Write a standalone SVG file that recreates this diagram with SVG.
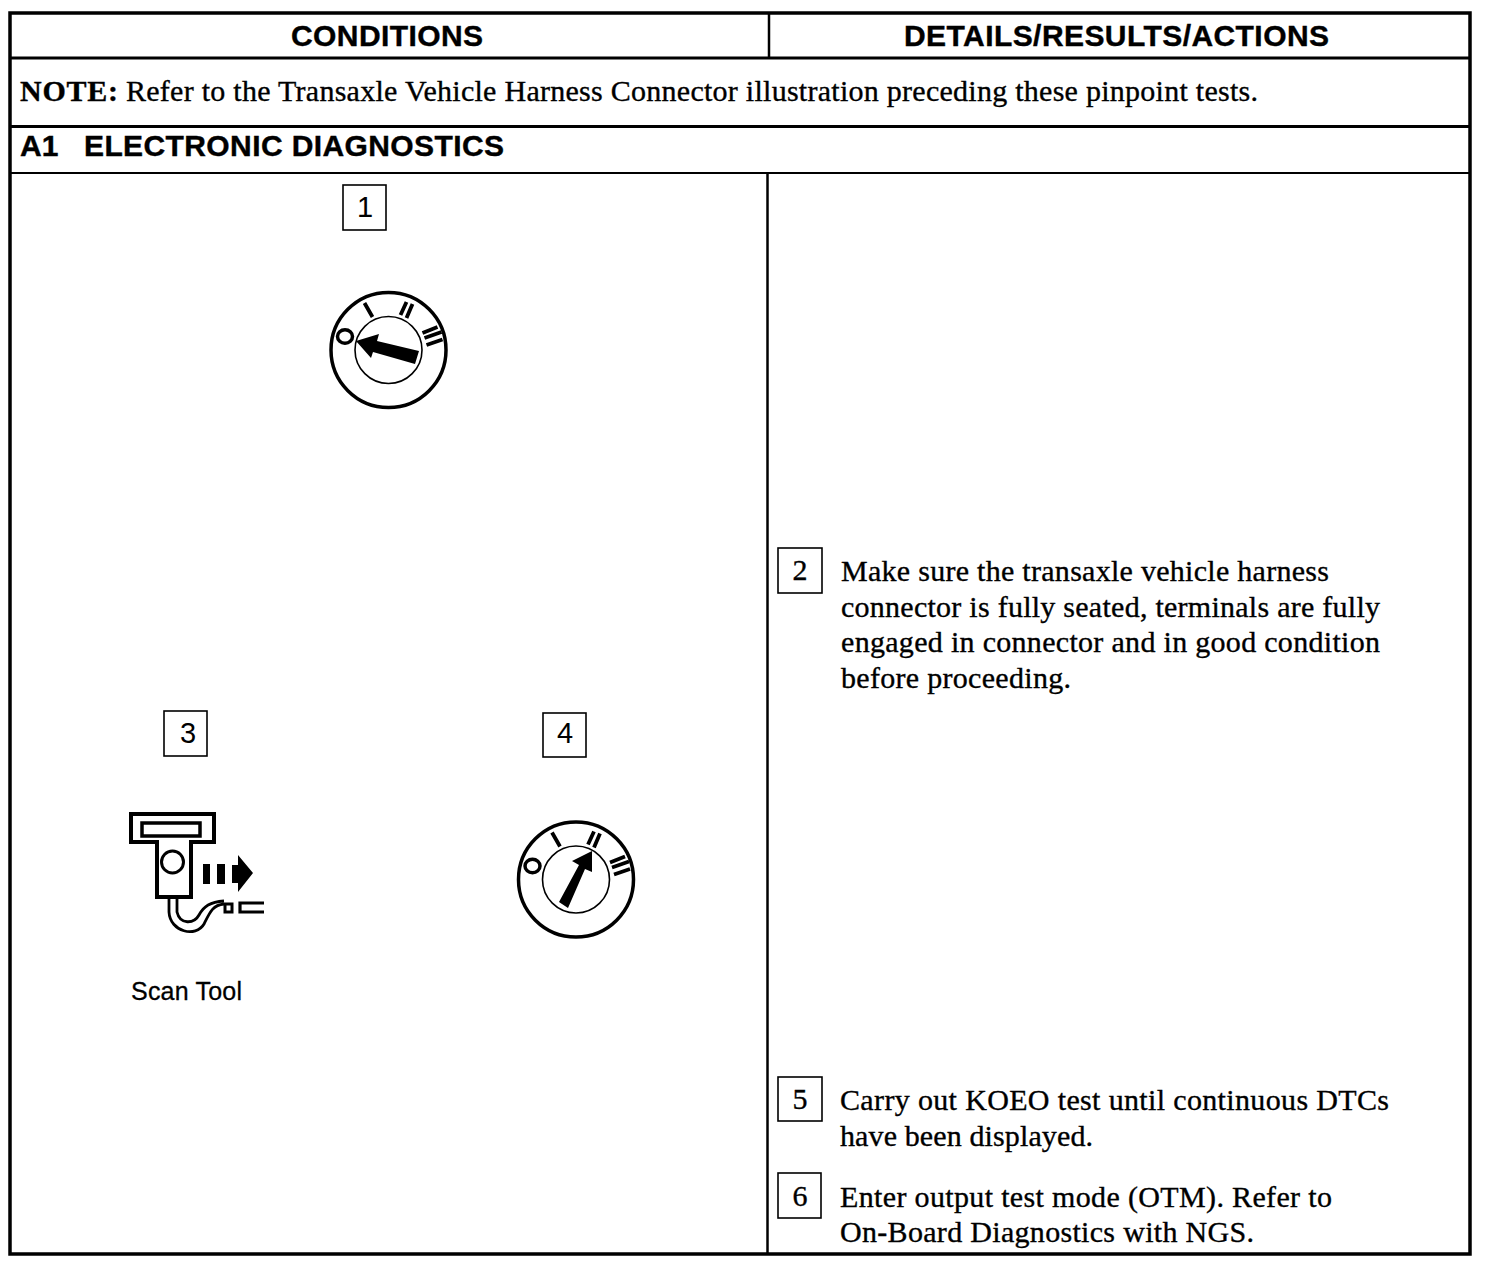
<svg xmlns="http://www.w3.org/2000/svg" xmlns:xlink="http://www.w3.org/1999/xlink" width="1504" height="1270" viewBox="0 0 1504 1270">
<style>
.h{font-family:"Liberation Sans",Arial,sans-serif;font-weight:700;font-size:30px;fill:#000;stroke:#000;stroke-width:.4}
.t{font-family:"Liberation Serif","Times New Roman",serif;font-size:30px;fill:#000;stroke:#000;stroke-width:.35}
.n{font-family:"Liberation Sans",Arial,sans-serif;font-size:29px;fill:#000;text-anchor:middle}
.s{font-family:"Liberation Sans",Arial,sans-serif;font-size:25px;fill:#000;stroke:#000;stroke-width:.3}
.l{stroke:#000;fill:none}
.b{stroke:#000;stroke-width:1.6;fill:none}
</style>
<defs>
<g id="dial">
<circle r="57.5" cx="0" cy="0" fill="#fff" stroke="#000" stroke-width="3.5"/>
<circle r="33.5" cx="0" cy="0" fill="none" stroke="#000" stroke-width="1.6"/>
<ellipse cx="-43.500" cy="-13.500" rx="7.500" ry="6.800" fill="none" stroke="#000" stroke-width="3.500"/>
<path d="M-24-47L-16-33M18-48L12-35M24-46L18-32M34-17L49-23M36-12L53-18M38-5L54-10.500" class="l" stroke-width="3.800"/>
</g>
</defs>
<rect width="1504" height="1270" fill="#fff"/>
<g id="table" class="l">
<rect x="10" y="13" width="1460" height="1241" stroke-width="3.5"/>
<path d="M10 58H1470M10 126.500H1470" stroke-width="2.800"/>
<path d="M10 173H1470" stroke-width="2"/>
<path d="M769 13V58" stroke-width="2.500"/>
<path d="M767.500 173V1254" stroke-width="2.500"/>
</g>
<g id="header">
<text class="h" x="291" y="46" textLength="192" lengthAdjust="spacing">CONDITIONS</text>
<text class="h" x="904" y="46" textLength="425" lengthAdjust="spacing">DETAILS/RESULTS/ACTIONS</text>
<text class="t" x="20" y="101" font-weight="700" textLength="98" lengthAdjust="spacing">NOTE:</text>
<text class="t" x="126" y="101" textLength="1132" lengthAdjust="spacing">Refer to the Transaxle Vehicle Harness Connector illustration preceding these pinpoint tests.</text>
<text class="h" x="20" y="156">A1</text>
<text class="h" x="84" y="156" textLength="420" lengthAdjust="spacing">ELECTRONIC DIAGNOSTICS</text>
</g>
<g id="step1">
<rect class="b" x="343" y="185" width="43" height="45"/>
<text class="n" x="365" y="217">1</text>
<use xlink:href="#dial" x="388.500" y="350"/>
<path d="M356 341L379 334L377 341L419 351L415 364L373 352L371 358Z" fill="#000"/>
</g>
<g id="step2">
<rect class="b" x="778" y="548" width="44" height="45"/>
<text class="t" x="800" y="580" text-anchor="middle">2</text>
<text class="t" x="841" y="581" textLength="488" lengthAdjust="spacing">Make sure the transaxle vehicle harness</text>
<text class="t" x="841" y="617" textLength="539" lengthAdjust="spacing">connector is fully seated, terminals are fully</text>
<text class="t" x="841" y="652" textLength="539" lengthAdjust="spacing">engaged in connector and in good condition</text>
<text class="t" x="841" y="688" textLength="230" lengthAdjust="spacing">before proceeding.</text>
</g>
<g id="step3">
<rect class="b" x="164" y="711" width="43" height="45"/>
<text class="n" x="188" y="743">3</text>
<path d="M131 814H214V842H191V897H157V842H131Z" fill="none" stroke="#000" stroke-width="4"/>
<rect x="142" y="823" width="58" height="13" fill="none" stroke="#000" stroke-width="3.500"/>
<circle cx="172.500" cy="862" r="11" fill="none" stroke="#000" stroke-width="3"/>
<path d="M203 864H210V884H203ZM217 864H225V884H217ZM232 865H238V855L253 873L238 892V883H232Z" fill="#000"/>
<path d="M169 899V912C170 932 196 938 204 924C210 912 213 905 224 904M177 899V912C180 925 194 924 199 915C204 906 210 902 224 901" fill="none" stroke="#000" stroke-width="2.800"/>
<rect x="225" y="904" width="7" height="8" fill="none" stroke="#000" stroke-width="3"/>
<path d="M264 903H240V912H264" fill="none" stroke="#000" stroke-width="3.200"/>
<text class="s" x="131" y="1000" textLength="111" lengthAdjust="spacing">Scan Tool</text>
</g>
<g id="step4">
<rect class="b" x="543" y="713" width="43" height="44"/>
<text class="n" x="565" y="743">4</text>
<use xlink:href="#dial" x="576" y="879.500"/>
<path d="M592 851L572 861L579 865L559 902L568 908L585 869L592 872Z" fill="#000"/>
</g>
<g id="step5">
<rect class="b" x="778" y="1077" width="44" height="44"/>
<text class="t" x="800" y="1109" text-anchor="middle">5</text>
<text class="t" x="840" y="1110" textLength="549" lengthAdjust="spacing">Carry out KOEO test until continuous DTCs</text>
<text class="t" x="840" y="1146" textLength="253" lengthAdjust="spacing">have been displayed.</text>
</g>
<g id="step6">
<rect class="b" x="778" y="1173" width="43" height="45"/>
<text class="t" x="800" y="1206" text-anchor="middle">6</text>
<text class="t" x="840" y="1207" textLength="492" lengthAdjust="spacing">Enter output test mode (OTM). Refer to</text>
<text class="t" x="840" y="1242" textLength="414" lengthAdjust="spacing">On-Board Diagnostics with NGS.</text>
</g>
</svg>
